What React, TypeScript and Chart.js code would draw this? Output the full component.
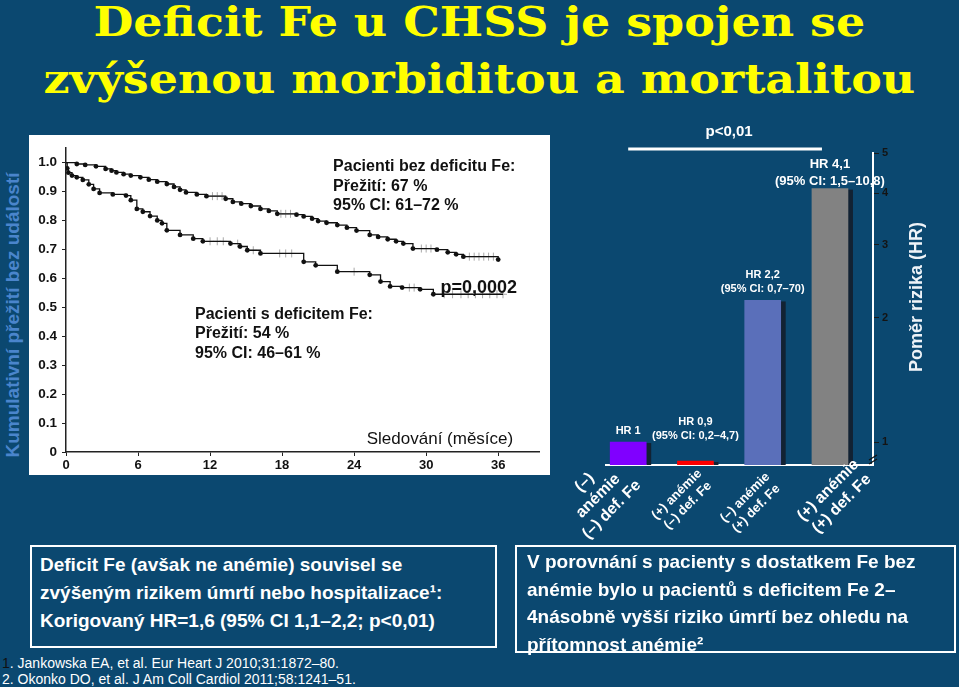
import React, { useEffect, useRef } from 'react';
import { Chart, registerables } from 'chart.js';
Chart.register(...registerables);

const FONT = "'Liberation Sans', Arial, Helvetica, sans-serif";
const BG = '#0b4870';

// ---- Kaplan-Meier data ----
const kmMonthTicks = [0, 6, 12, 18, 24, 30, 36];
const kmSurvivalTicks = [0, 0.1, 0.2, 0.3, 0.4, 0.5, 0.6, 0.7, 0.8, 0.9, 1.0];

const noDefMonths = [0, 0.9, 1.6, 2.5, 3.3, 3.8, 4.2, 4.8, 5.4, 6.2, 6.9, 7.6, 8.4, 9.0, 9.5, 10.0, 10.9, 11.7, 13.3, 13.9, 14.6, 15.4, 16.2, 16.9, 17.6, 19.2, 19.8, 20.5, 21.0, 21.7, 22.6, 23.4, 24.2, 25.3, 26.0, 26.8, 27.5, 28.1, 28.9, 30.9, 31.8, 32.5, 33.1, 36.0];
const noDefSurvival = [1.0, 0.995, 0.992, 0.987, 0.978, 0.972, 0.966, 0.96, 0.955, 0.949, 0.941, 0.934, 0.926, 0.916, 0.906, 0.897, 0.89, 0.884, 0.875, 0.864, 0.858, 0.85, 0.84, 0.833, 0.823, 0.82, 0.814, 0.806, 0.798, 0.792, 0.784, 0.775, 0.765, 0.75, 0.743, 0.735, 0.728, 0.72, 0.703, 0.699, 0.69, 0.683, 0.675, 0.665];

const defMonths = [0, 0.1, 0.2, 0.5, 0.9, 1.4, 1.9, 2.3, 2.8, 3.9, 5.0, 5.4, 5.9, 6.4, 7.0, 7.6, 8.0, 8.4, 9.5, 10.6, 11.4, 13.7, 14.5, 15.1, 16.2, 19.8, 20.8, 22.6, 25.3, 26.2, 27.0, 28.0, 29.5, 30.6];
const defSurvival = [1.0, 0.98, 0.965, 0.955, 0.949, 0.94, 0.925, 0.909, 0.895, 0.89, 0.886, 0.87, 0.84, 0.83, 0.815, 0.8, 0.79, 0.766, 0.75, 0.737, 0.728, 0.72, 0.71, 0.697, 0.686, 0.657, 0.645, 0.623, 0.612, 0.589, 0.572, 0.568, 0.562, 0.545];

const noDefCensorMonths = [12.2, 12.6, 13.0, 17.9, 18.3, 18.7, 29.6, 30.0, 30.4, 33.6, 34.0, 34.4, 34.8, 35.2, 35.6];
const defCensorMonths = [12.0, 12.6, 13.1, 14.3, 15.6, 17.8, 18.3, 18.8, 24.0, 28.6, 29.0, 31.5, 32.2, 32.9, 33.5, 34.1, 34.7, 35.3, 35.9, 36.4];

// ---- Hazard ratio bar data ----
const hrCategories = [
  ['(–)', 'anémie', '(–) def. Fe'],
  ['(+) anémie', '(–) def. Fe'],
  ['(–) anémie', '(+) def. Fe'],
  ['(+) anémie', '(+) def. Fe'],
];
const hrValues = [1, 0.9, 2.2, 4.1];
const hrLabelLines = [
  ['HR 1'],
  ['HR 0,9', '(95% CI: 0,2–4,7)'],
  ['HR 2,2', '(95% CI: 0,7–70)'],
  ['HR 4,1', '(95% CI: 1,5–10,8)'],
];
const hrAxisTicks = [1, 2, 3, 4, 5];
const barColors = ['#8000ff', '#ff0000', '#5a6fba', '#828282'];

function stepValue(months: number[], surv: number[], t: number) {
  let v = surv[0];
  for (let i = 0; i < months.length; i++) if (months[i] <= t) v = surv[i];
  return v;
}

const kmTextPlugin = {
  id: 'kmText',
  afterDraw(chart: any) {
    const { ctx, scales: { x, y } } = chart;
    ctx.save();
    ctx.fillStyle = '#111';
    ctx.textBaseline = 'middle';
    ctx.textAlign = 'left';
    ctx.font = `bold 16px ${FONT}`;
    const upper = ['Pacienti bez deficitu Fe:', 'Přežití: 67 %', '95% CI: 61–72 %'];
    const lower = ['Pacienti s deficitem Fe:', 'Přežití: 54 %', '95% CI: 46–61 %'];
    upper.forEach((t, i) => ctx.fillText(t, x.getPixelForValue(22.25), y.getPixelForValue(0.985) + i * 19.5));
    lower.forEach((t, i) => ctx.fillText(t, x.getPixelForValue(10.75), y.getPixelForValue(0.475) + i * 19.5));
    ctx.font = `bold 18px ${FONT}`;
    ctx.fillText('p=0,0002', x.getPixelForValue(31.2), y.getPixelForValue(0.568));
    ctx.font = `17px ${FONT}`;
    ctx.textAlign = 'right';
    ctx.fillText('Sledování (měsíce)', x.getPixelForValue(37.25), y.getPixelForValue(0.044));
    ctx.restore();
  },
};

const barShadowPlugin = {
  id: 'barShadow',
  beforeDatasetsDraw(chart: any) {
    const { ctx } = chart;
    const meta = chart.getDatasetMeta(0);
    ctx.save();
    ctx.fillStyle = '#122233';
    meta.data.forEach((el: any) => {
      const p = el.getProps(['x', 'y', 'base', 'width'], true);
      ctx.fillRect(p.x + p.width / 2, p.y + 1, 5, p.base - p.y - 1);
    });
    ctx.restore();
  },
};

const barTextPlugin = {
  id: 'barText',
  afterDraw(chart: any) {
    const { ctx, chartArea, scales: { x, y } } = chart;
    ctx.save();
    ctx.fillStyle = '#ffffff';
    ctx.textAlign = 'center';
    ctx.textBaseline = 'middle';
    // labels above bars
    const refTop = y.getPixelForValue(1) + 5;
    hrValues.forEach((v, i) => {
      const px = x.getPixelForValue(i);
      const top = Math.min(y.getPixelForValue(v), refTop);
      const big = i === 3;
      const lines = hrLabelLines[i];
      const lh = big ? 17 : 14.5;
      ctx.font = `bold ${big ? 13 : 11}px ${FONT}`;
      lines.forEach((ln, k) => {
        ctx.fillText(ln, px, top - (big ? 7 : 11) - (lines.length - 1 - k) * lh);
      });
    });
    // significance bracket
    const x0 = x.getPixelForValue(0);
    const x3 = x.getPixelForValue(3) - 8;
    ctx.strokeStyle = '#ffffff';
    ctx.lineWidth = 3;
    ctx.beginPath();
    ctx.moveTo(x0, chartArea.top - 4);
    ctx.lineTo(x3, chartArea.top - 4);
    ctx.stroke();
    ctx.font = `bold 15px ${FONT}`;
    ctx.fillText('p<0,01', (x0 + x3) / 2 + 4, chartArea.top - 21);
    // y axis title
    ctx.save();
    ctx.translate(chartArea.right + 44, (chartArea.top + chartArea.bottom) / 2 - 12);
    ctx.rotate(-Math.PI / 2);
    ctx.font = `bold 18px ${FONT}`;
    ctx.fillStyle = '#eef3f8';
    ctx.fillText('Poměr rizika (HR)', 0, 0);
    ctx.restore();
    // axis break marks
    ctx.strokeStyle = '#111';
    ctx.lineWidth = 1.2;
    for (let k = 0; k < 2; k++) {
      ctx.beginPath();
      ctx.moveTo(chartArea.right - 4, chartArea.bottom - 5 + k * 4);
      ctx.lineTo(chartArea.right + 4, chartArea.bottom - 10 + k * 4);
      ctx.stroke();
    }
    // rotated category labels
    const labelDx = [-30, -13, -12, 5];
    const labelDy = [31, 35, 38, 32];
    const labelSize = [16, 13, 13, 16];
    hrCategories.forEach((lines, i) => {
      const cx = x.getPixelForValue(i) + labelDx[i];
      const cy = chartArea.bottom + labelDy[i];
      const fs = labelSize[i];
      const step = (fs * 1.2) / Math.SQRT2;
      ctx.font = `bold ${fs}px ${FONT}`;
      ctx.fillStyle = '#ffffff';
      lines.forEach((ln, k) => {
        const off = k - (lines.length - 1) / 2;
        ctx.save();
        ctx.translate(cx + off * step, cy + off * step);
        ctx.rotate(-Math.PI / 4);
        ctx.fillText(ln, 0, 0);
        ctx.restore();
      });
    });
    ctx.restore();
  },
};

export default function App() {
  const kmRef = useRef<HTMLCanvasElement>(null);
  const barRef = useRef<HTMLCanvasElement>(null);

  useEffect(() => {
    const km = new Chart(kmRef.current!, {
      type: 'line',
      data: {
        datasets: [
          {
            data: noDefMonths.map((m, i) => ({ x: m, y: noDefSurvival[i] })),
            borderColor: '#111',
            borderWidth: 1.3,
            stepped: true,
            pointRadius: (c: any) => (c.dataIndex === 0 ? 0 : 2.4),
            pointBackgroundColor: '#111',
            pointBorderWidth: 0,
            fill: false,
          },
          {
            data: defMonths.map((m, i) => ({ x: m, y: defSurvival[i] })).concat([{ x: 36.4, y: defSurvival[defSurvival.length - 1] }]),
            borderColor: '#111',
            borderWidth: 1.3,
            stepped: true,
            pointRadius: (c: any) => (c.dataIndex === 0 || c.dataIndex > defMonths.length - 1 ? 0 : 2.4),
            pointBackgroundColor: '#111',
            pointBorderWidth: 0,
            fill: false,
          },
          {
            data: noDefCensorMonths.map((m) => ({ x: m, y: stepValue(noDefMonths, noDefSurvival, m) })),
            showLine: false,
            pointStyle: 'cross',
            pointRadius: 4,
            borderColor: '#a8a8a8',
            pointBorderWidth: 1,
          },
          {
            data: defCensorMonths.map((m) => ({ x: m, y: stepValue(defMonths, defSurvival, m) })),
            showLine: false,
            pointStyle: 'cross',
            pointRadius: 4,
            borderColor: '#a8a8a8',
            pointBorderWidth: 1,
          },
        ],
      },
      options: {
        animation: false,
        responsive: false,
        layout: { padding: { top: 12, right: 11, left: 0, bottom: 0 } },
        plugins: { legend: { display: false }, tooltip: { enabled: false } },
        scales: {
          x: {
            type: 'linear',
            min: 0,
            max: 39.4,
            afterFit: (s: any) => { s.height = 23; },
            afterBuildTicks: (s: any) => { s.ticks = kmMonthTicks.map((v) => ({ value: v })); },
            ticks: { font: { family: FONT, size: 13, weight: 'bold' }, color: '#111', padding: 2, maxRotation: 0, autoSkip: false },
            grid: { drawOnChartArea: false, tickLength: 4, color: '#222' },
            border: { color: '#222', width: 1.5 },
          },
          y: {
            min: 0,
            max: 1.05,
            afterFit: (s: any) => { s.width = 37; },
            afterBuildTicks: (s: any) => { s.ticks = kmSurvivalTicks.map((v) => ({ value: v })); },
            ticks: {
              font: { family: FONT, size: 13.5, weight: 'bold' },
              color: '#111',
              padding: 5,
              autoSkip: false,
              callback: (v: any) => (Number(v) === 0 ? '0' : Number(v).toFixed(1)),
            },
            grid: { drawOnChartArea: false, tickLength: 4, color: '#222' },
            border: { color: '#222', width: 1.5 },
          },
        },
      } as any,
      plugins: [kmTextPlugin],
    });

    const bar = new Chart(barRef.current!, {
      type: 'bar',
      data: {
        datasets: [
          {
            data: hrValues.map((v, i) => ({ x: i, y: v })),
            backgroundColor: barColors,
            barThickness: 36,
            borderWidth: 0,
          },
        ],
      },
      options: {
        animation: false,
        responsive: false,
        layout: { padding: { left: 46, top: 43, right: 0, bottom: 0 } },
        plugins: { legend: { display: false }, tooltip: { enabled: false } },
        scales: {
          x: {
            type: 'linear',
            offset: false,
            min: -0.33,
            max: 3.64,
            afterFit: (s: any) => { s.height = 85; },
            ticks: { display: false },
            grid: { display: false, offset: false },
            border: { color: '#ffffff', width: 2 },
          },
          y: {
            type: 'logarithmic',
            position: 'right',
            min: 0.88,
            max: 5,
            afterFit: (s: any) => { s.width = 86; },
            afterBuildTicks: (s: any) => { s.ticks = hrAxisTicks.map((v) => ({ value: v })); },
            ticks: {
              callback: (v: any) => String(v),
              font: { family: FONT, size: 11, weight: 'bold' },
              color: '#141414',
              padding: 3,
              autoSkip: false,
            },
            grid: { drawOnChartArea: false, color: '#1a1a1a', tickLength: 6 },
            border: { color: '#ffffff', width: 2 },
          },
        },
      } as any,
      plugins: [barShadowPlugin, barTextPlugin],
    });

    return () => {
      km.destroy();
      bar.destroy();
    };
  }, []);

  const boxText: React.CSSProperties = {
    position: 'absolute',
    boxSizing: 'border-box',
    border: '2px solid #ffffff',
    color: '#ffffff',
    fontFamily: FONT,
    fontWeight: 'bold',
    whiteSpace: 'nowrap',
  };

  return (
    <div style={{ position: 'fixed', left: 0, top: 0, width: 959, height: 687, background: BG, overflow: 'hidden', fontFamily: FONT }}>
      <div
        style={{
          position: 'absolute',
          left: 0,
          top: -6,
          width: 959,
          textAlign: 'center',
          fontFamily: "'DejaVu Serif', serif",
          fontWeight: 'bold',
          fontSize: 41,
          lineHeight: '57px',
          color: '#ffff00',
          whiteSpace: 'nowrap',
          transform: 'scaleX(1.12)',
          transformOrigin: '481px 0',
        }}
      >
        Deficit Fe u CHSS je spojen se
        <br />
        zvýšenou morbiditou a mortalitou
      </div>
      <div
        style={{
          position: 'absolute',
          left: 13 - 200,
          top: 315 - 11,
          width: 400,
          height: 22,
          lineHeight: '22px',
          textAlign: 'center',
          transform: 'rotate(-90deg)',
          transformOrigin: '50% 50%',
          color: '#4a85cc',
          fontWeight: 'bold',
          fontSize: 19,
          whiteSpace: 'nowrap',
        }}
      >
        Kumulativní přežití bez událostí
      </div>
      <canvas ref={kmRef} width={521} height={340} style={{ position: 'absolute', left: 29, top: 135, background: '#ffffff' }} />
      <canvas ref={barRef} width={399} height={440} style={{ position: 'absolute', left: 560, top: 110 }} />
      <div style={{ ...boxText, left: 30, top: 545, width: 467, height: 103, padding: '4px 0 0 8px', lineHeight: '28px', fontSize: 19 }}>
        Deficit Fe (avšak ne anémie) souvisel se
        <br />
        zvýšeným rizikem úmrtí nebo hospitalizace¹:
        <br />
        Korigovaný HR=1,6 (95% CI 1,1–2,2; p&lt;0,01)
      </div>
      <div style={{ ...boxText, left: 515, top: 545, width: 441, height: 108, padding: '1px 0 0 10px', lineHeight: '27.7px', fontSize: 19 }}>
        V porovnání s pacienty s dostatkem Fe bez
        <br />
        anémie bylo u pacientů s deficitem Fe 2–
        <br />
        4násobně vyšší riziko úmrtí bez ohledu na
        <br />
        přítomnost anémie²
      </div>
      <div style={{ position: 'absolute', left: 2, top: 655, color: '#ffffff', fontSize: 14, lineHeight: '16px', whiteSpace: 'nowrap' }}>
        <span style={{ color: '#111' }}>1</span>. Jankowska EA, et al. Eur Heart J 2010;31:1872–80.
        <br />
        2. Okonko DO, et al. J Am Coll Cardiol 2011;58:1241–51.
      </div>
    </div>
  );
}
